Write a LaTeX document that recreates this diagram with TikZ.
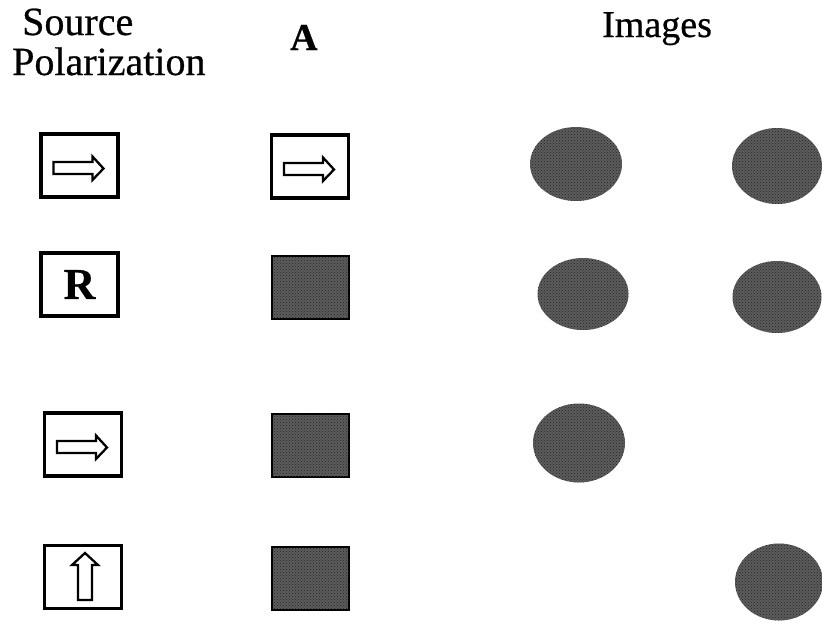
\documentclass[tikz,border=0pt]{standalone}
\usepackage{fontspec}
\setmainfont{Liberation Serif}[FakeBold=0.6]
\usetikzlibrary{patterns,shapes.geometric}
\begin{document}
\begin{tikzpicture}[x=1pt,y=-1pt,
  title/.style={font=\fontsize{40}{40}\selectfont, inner sep=0pt, anchor=base west},
  polbox/.style={draw=black, line width=3.4pt, fill=white, minimum width=77pt, minimum height=63pt, inner sep=0pt},
  shadebox/.style={draw=black, line width=2pt, fill=black!64, minimum width=77pt, minimum height=63pt, inner sep=0pt,
    postaction={pattern=crosshatch dots, pattern color=black!85}},
  spot/.style={ellipse, fill=black!64, draw=none, inner sep=0pt,
    postaction={pattern=crosshatch dots, pattern color=black!85}},
  arrowline/.style={draw=black, line width=2.3pt, line join=miter, fill=white}
]
\useasboundingbox (0,0) rectangle (822,622);

% column headings
\node[title] (src) at (22,35) {Source};
\node[title] (pol) at (12,75) {Polarization};
\node[title, font=\fontsize{38}{38}\selectfont\bfseries] (hA) at (290,50) {A};
\node[title, font=\fontsize{38}{38}\selectfont] (img) at (602,37) {Images};

% source polarization boxes
\node[polbox] (s1) at (79.5,165.5) {};
\node[polbox, font=\fontsize{44}{44}\selectfont\bfseries] (s2) at (79.5,284.5) {R};
\node[polbox] (s3) at (83,444.5) {};
\node[polbox] (s4) at (83,577) {};

% analyser boxes
\node[polbox] (a1) at (310,166.5) {};
\node[shadebox] (a2) at (310,287) {};
\node[shadebox] (a3) at (310,445.5) {};
\node[shadebox] (a4) at (310,578.5) {};

% outlined arrows inside the boxes
\foreach \b in {s1,a1,s3}{
  \draw[arrowline] ([shift={(-26,-3.5)}]\b.center) -- ++(39,0) -- ++(0,-5.5) -- ++(11,12)
    -- ++(-11,11.5) -- ++(0,-6) -- ++(-39,0) -- cycle;
}
\draw[arrowline] ([shift={(-5,23)}]s4.center) -- ++(0,-35) -- ++(-6,0) -- ++(13,-12)
  -- ++(13,12) -- ++(-6,0) -- ++(0,35) -- cycle;

% image spots
\node[spot, minimum width=92pt, minimum height=74pt] (i11) at (576,164) {};
\node[spot, minimum width=90pt, minimum height=76pt] (i12) at (777,166) {};
\node[spot, minimum width=91pt, minimum height=72pt] (i21) at (583,294) {};
\node[spot, minimum width=89pt, minimum height=72pt] (i22) at (777,297) {};
\node[spot, minimum width=92pt, minimum height=79pt] (i31) at (579,443) {};
\node[spot, minimum width=88pt, minimum height=77pt] (i42) at (779,582) {};
\end{tikzpicture}
\end{document}
